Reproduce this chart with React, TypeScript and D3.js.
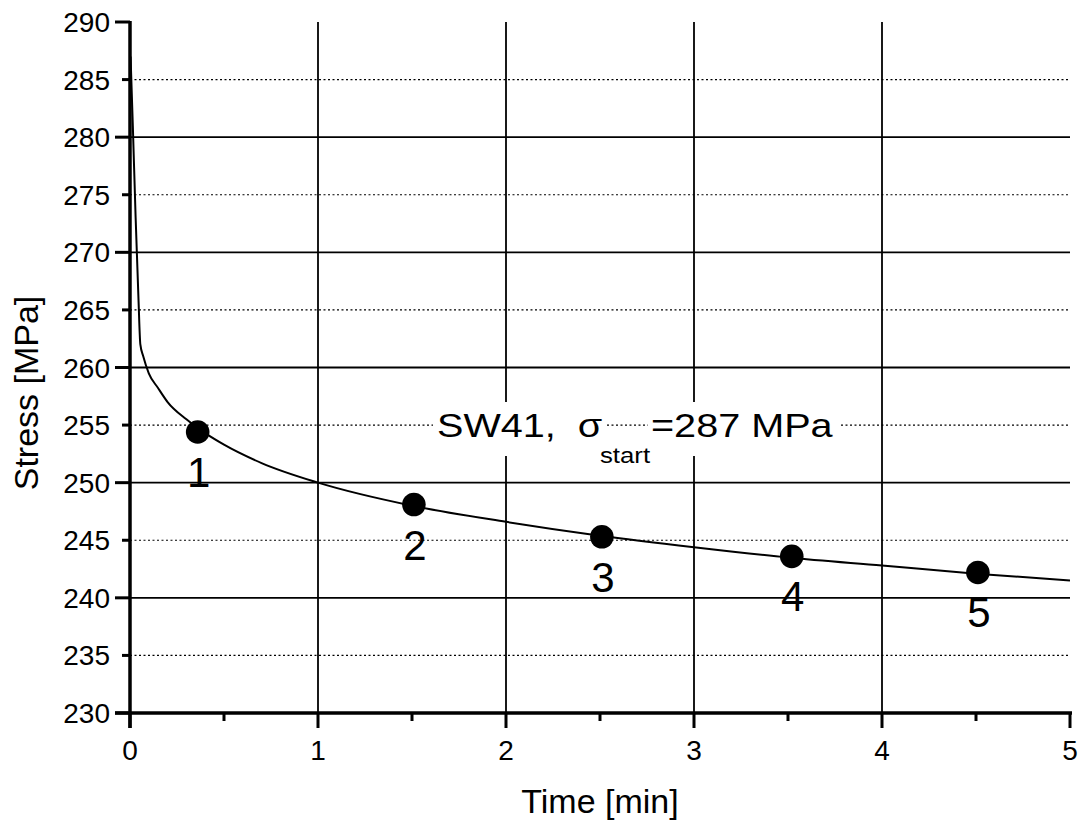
import React from "react";
import * as d3 from "d3";

const curveX = [0.003, 0.015, 0.03, 0.045, 0.055, 0.07, 0.1, 0.15, 0.2, 0.3, 0.4, 0.5, 0.7, 1.0, 1.5, 2.0, 2.5, 3.0, 3.5, 4.0, 4.5, 5.0];
const curveY = [287, 281, 273, 266, 262, 261, 259.5, 258.2, 257, 255.5, 254.3, 253.3, 251.7, 250.0, 248.0, 246.6, 245.4, 244.4, 243.5, 242.8, 242.1, 241.5];

const pointX = [0.36, 1.51, 2.51, 3.52, 4.51];
const pointY = [254.4, 248.1, 245.3, 243.6, 242.2];
const pointLabels = ["1", "2", "3", "4", "5"];

const xTicks = [0, 1, 2, 3, 4, 5];
const xMinorTicks = [0.5, 1.5, 2.5, 3.5, 4.5];
const yTicks = [230, 235, 240, 245, 250, 255, 260, 265, 270, 275, 280, 285, 290];

const FONT = "'Liberation Sans', Arial, sans-serif";

function SText(props: { x: number; y: number; size: number; sx?: number; anchor?: string; children: React.ReactNode }) {
  const { x, y, size, sx = 1, anchor = "start", children } = props;
  return (
    <text transform={`translate(${x},${y}) scale(${sx},1)`} fontSize={size} textAnchor={anchor} fill="#000">
      {children}
    </text>
  );
}

export default function App() {
  const W = 1083, H = 826;
  const x = d3.scaleLinear().domain([0, 5]).range([130, 1070]);
  const y = d3.scaleLinear().domain([230, 290]).range([713, 22]);
  const line = d3.line<number>().x((_, i) => x(curveX[i])).y((_, i) => y(curveY[i])).curve(d3.curveMonotoneX);
  const x0 = x(0), yb = y(230);

  return (
    <svg width={W} height={H} style={{ position: "absolute", left: 0, top: 0, background: "#fff" }} fontFamily={FONT}>
      <rect width={W} height={H} fill="#fff" />
      {/* horizontal grid */}
      {yTicks.filter(t => t > 230 && t < 290).map(t => (
        <line key={"hg" + t} x1={x0} x2={x(5)} y1={y(t)} y2={y(t)} stroke="#000"
          strokeWidth={t % 10 === 0 ? 1.8 : 1.1} strokeDasharray={t % 10 === 0 ? undefined : "2,2.5"} />
      ))}
      {/* vertical grid */}
      {xTicks.filter(t => t > 0 && t < 5).map(t => (
        <line key={"vg" + t} x1={x(t)} x2={x(t)} y1={y(290)} y2={yb} stroke="#000" strokeWidth={1.8} />
      ))}
      {/* annotation with white text boxes */}
      <rect x={433} y={402} width={172} height={54} fill="#fff" />
      <rect x={648} y={402} width={192} height={54} fill="#fff" />
      <rect x={598} y={445} width={57} height={25} fill="#fff" />
      <SText x={437} y={437} size={33} sx={1.2}>{"SW41,\u00a0\u00a0σ"}</SText>
      <SText x={600} y={463} size={23} sx={1.12}>start</SText>
      <SText x={651} y={437} size={33} sx={1.2}>=287 MPa</SText>
      {/* curve */}
      <path d={line(curveX) || ""} fill="none" stroke="#000" strokeWidth={2} />
      {/* points */}
      {pointX.map((px, i) => (
        <g key={"p" + i}>
          <circle cx={x(px)} cy={y(pointY[i])} r={11.8} fill="#000" />
          <SText x={x(px) + 1} y={y(pointY[i]) + 55} size={42} anchor="middle">{pointLabels[i]}</SText>
        </g>
      ))}
      {/* axes */}
      <line x1={x0} x2={x0} y1={y(290) - 1} y2={yb + 15} stroke="#000" strokeWidth={3.5} />
      <line x1={x0 - 15} x2={x(5) + 2} y1={yb} y2={yb} stroke="#000" strokeWidth={3.5} />
      {yTicks.map(t => (
        <g key={"yt" + t}>
          <line x1={x0 - (t % 10 === 0 ? 15 : 8)} x2={x0} y1={y(t)} y2={y(t)} stroke="#000" strokeWidth={3} />
          <SText x={110} y={y(t) + 10} size={28} anchor="end">{t}</SText>
        </g>
      ))}
      {xTicks.map(t => (
        <g key={"xt" + t}>
          <line x1={x(t)} x2={x(t)} y1={yb} y2={yb + 15} stroke="#000" strokeWidth={3} />
          <SText x={x(t)} y={760} size={28} anchor="middle">{t}</SText>
        </g>
      ))}
      {xMinorTicks.map(t => (
        <line key={"xm" + t} x1={x(t)} x2={x(t)} y1={yb} y2={yb + 8} stroke="#000" strokeWidth={3} />
      ))}
      <SText x={600} y={813} size={34} anchor="middle">Time [min]</SText>
      <text transform={`translate(38,393) rotate(-90)`} fontSize={34} textAnchor="middle" fill="#000">Stress [MPa]</text>
    </svg>
  );
}
